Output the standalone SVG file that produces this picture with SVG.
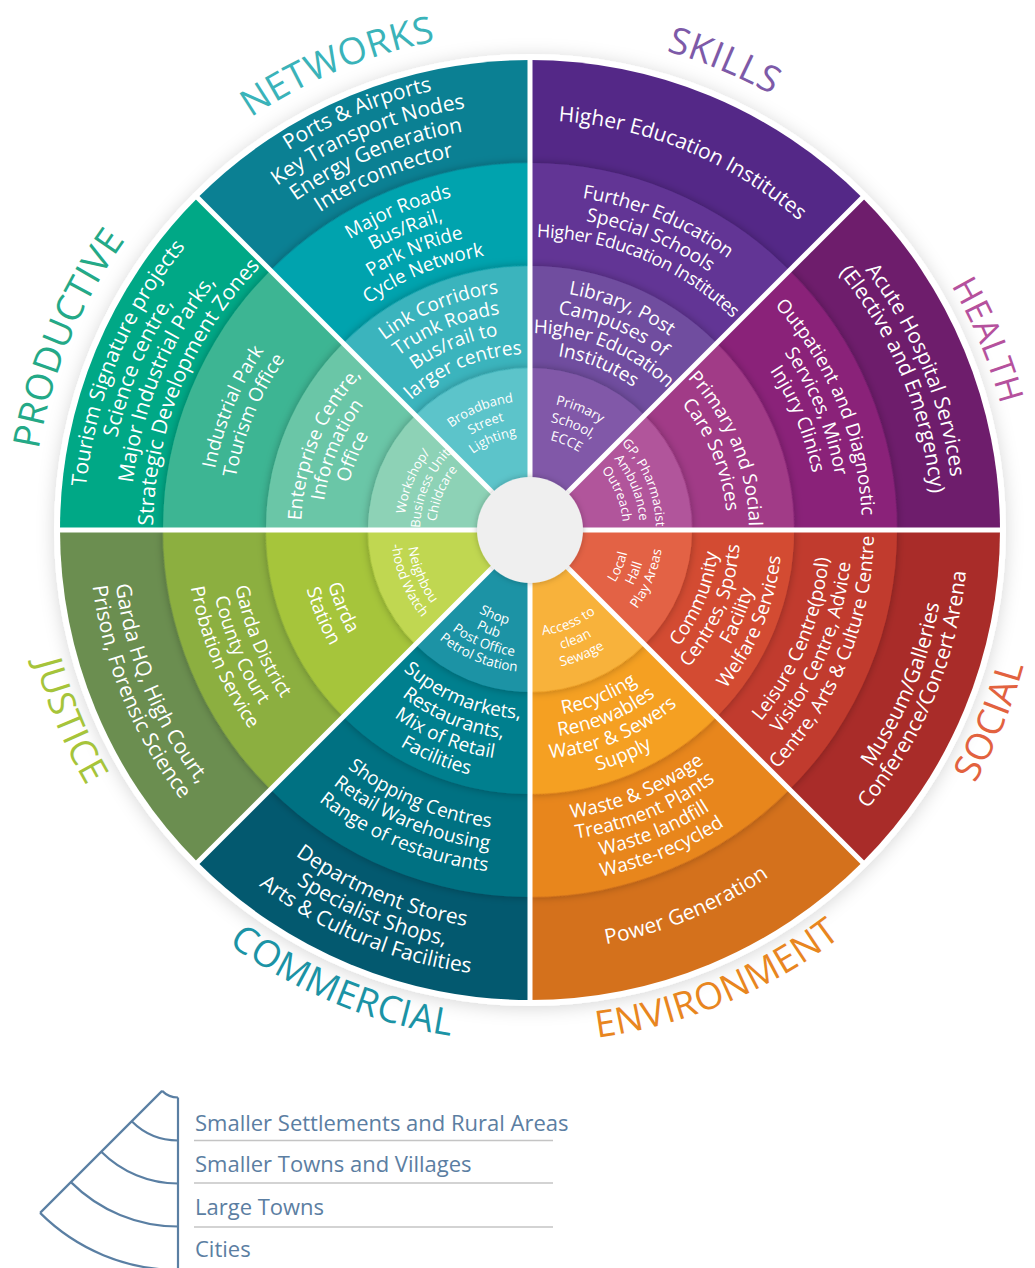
<svg xmlns="http://www.w3.org/2000/svg" width="1035" height="1268" viewBox="0 0 1035 1268">
<style>
.t{font-family:"Open Sans","Liberation Sans",sans-serif;fill:#fff;text-anchor:middle}
.f1{font-size:21px}.f2{font-size:19px}.f4{font-size:13.5px}
.cat{font-family:"Open Sans","Liberation Sans",sans-serif;font-size:37px;letter-spacing:0.5px;text-anchor:middle}
.leg{font-family:"Open Sans","Liberation Sans",sans-serif;font-size:22px;fill:#5b7ea2}
.fan{fill:none;stroke:#5a7fa3;stroke-width:2.2}
.rule{stroke:#c4c4c4;stroke-width:1.6}
</style>
<defs>
<filter id="plate" x="-10%" y="-10%" width="120%" height="120%"><feDropShadow dx="0" dy="2" stdDeviation="9" flood-color="#000" flood-opacity="0.16"/></filter>
<filter id="sh" x="-20%" y="-20%" width="140%" height="140%"><feDropShadow dx="0" dy="0" stdDeviation="4" flood-color="#000" flood-opacity="0.3"/></filter>
<filter id="csh" x="-30%" y="-30%" width="160%" height="160%"><feDropShadow dx="0" dy="0" stdDeviation="3" flood-color="#000" flood-opacity="0.25"/></filter>
<clipPath id="cw"><path d="M530 530L530 58A472 472 0 0 1 863.76 196.24Z"/></clipPath>
<path id="w1" d="M530 530L530 60A470 470 0 0 1 862.34 197.66Z"/>
<path id="w2" d="M530 530L530 163A367 367 0 0 1 789.51 270.49Z"/>
<path id="w3" d="M530 530L530 266A264 264 0 0 1 716.68 343.32Z"/>
<path id="w4" d="M530 530L530 368A162 162 0 0 1 644.55 415.45Z"/>
<path id="t450" d="M80 530A450 450 0 0 1 980 530"/>
<path id="t427" d="M103 530A427 427 0 0 1 957 530"/>
<path id="t404" d="M126 530A404 404 0 0 1 934 530"/>
<path id="t381" d="M149 530A381 381 0 0 1 911 530"/>
<path id="t342" d="M188 530A342 342 0 0 1 872 530"/>
<path id="t321" d="M209 530A321 321 0 0 1 851 530"/>
<path id="t299" d="M231 530A299 299 0 0 1 829 530"/>
<path id="t278" d="M252 530A278 278 0 0 1 808 530"/>
<path id="t239" d="M291 530A239 239 0 0 1 769 530"/>
<path id="t218" d="M312 530A218 218 0 0 1 748 530"/>
<path id="t197" d="M333 530A197 197 0 0 1 727 530"/>
<path id="t176" d="M354 530A176 176 0 0 1 706 530"/>
<path id="t129" d="M401 530A129 129 0 0 1 659 530"/>
<path id="t112" d="M418 530A112 112 0 0 1 642 530"/>
<path id="t95" d="M435 530A95 95 0 0 1 625 530"/>
<path id="t410" d="M120 530A410 410 0 0 1 940 530"/>
<path id="t336" d="M194 530A336 336 0 0 1 866 530"/>
<path id="t314" d="M216 530A314 314 0 0 1 844 530"/>
<path id="t293" d="M237 530A293 293 0 0 1 823 530"/>
<path id="t128" d="M402 530A128 128 0 0 1 658 530"/>
<path id="t110" d="M420 530A110 110 0 0 1 640 530"/>
<path id="t92" d="M438 530A92 92 0 0 1 622 530"/>
<path id="t424" d="M106 530A424 424 0 0 1 954 530"/>
<path id="t402" d="M128 530A402 402 0 0 1 932 530"/>
<path id="t332" d="M198 530A332 332 0 0 1 862 530"/>
<path id="t310" d="M220 530A310 310 0 0 1 840 530"/>
<path id="t288" d="M242 530A288 288 0 0 1 818 530"/>
<path id="t219" d="M311 530A219 219 0 0 1 749 530"/>
<path id="t126" d="M404 530A126 126 0 0 1 656 530"/>
<path id="t93" d="M437 530A93 93 0 0 1 623 530"/>
<path id="t446" d="M84 530A446 446 0 0 1 976 530"/>
<path id="t423" d="M107 530A423 423 0 0 1 953 530"/>
<path id="t400" d="M130 530A400 400 0 0 1 930 530"/>
<path id="t377" d="M153 530A377 377 0 0 1 907 530"/>
<path id="t229" d="M301 530A229 229 0 0 1 759 530"/>
<path id="t208" d="M322 530A208 208 0 0 1 738 530"/>
<path id="t187" d="M343 530A187 187 0 0 1 717 530"/>
<path id="t94" d="M436 530A94 94 0 0 1 624 530"/>
<path id="t498" d="M32 530A498 498 0 0 1 1028 530"/>
<path id="t487" d="M43 530A487 487 0 0 1 1017 530"/>
<path id="b416" d="M114 530A416 416 0 0 0 946 530"/>
<path id="b438" d="M92 530A438 438 0 0 0 968 530"/>
<path id="b300" d="M230 530A300 300 0 0 0 830 530"/>
<path id="b322" d="M208 530A322 322 0 0 0 852 530"/>
<path id="b344" d="M186 530A344 344 0 0 0 874 530"/>
<path id="b189" d="M341 530A189 189 0 0 0 719 530"/>
<path id="b210" d="M320 530A210 210 0 0 0 740 530"/>
<path id="b231" d="M299 530A231 231 0 0 0 761 530"/>
<path id="b252" d="M278 530A252 252 0 0 0 782 530"/>
<path id="b100" d="M430 530A100 100 0 0 0 630 530"/>
<path id="b117" d="M413 530A117 117 0 0 0 647 530"/>
<path id="b133" d="M397 530A133 133 0 0 0 663 530"/>
<path id="b421" d="M109 530A421 421 0 0 0 951 530"/>
<path id="b291" d="M239 530A291 291 0 0 0 821 530"/>
<path id="b312" d="M218 530A312 312 0 0 0 842 530"/>
<path id="b333" d="M197 530A333 333 0 0 0 863 530"/>
<path id="b354" d="M176 530A354 354 0 0 0 884 530"/>
<path id="b187" d="M343 530A187 187 0 0 0 717 530"/>
<path id="b208" d="M322 530A208 208 0 0 0 738 530"/>
<path id="b229" d="M301 530A229 229 0 0 0 759 530"/>
<path id="b250" d="M280 530A250 250 0 0 0 780 530"/>
<path id="b106" d="M424 530A106 106 0 0 0 636 530"/>
<path id="b123" d="M407 530A123 123 0 0 0 653 530"/>
<path id="b140" d="M390 530A140 140 0 0 0 670 530"/>
<path id="b401" d="M129 530A401 401 0 0 0 931 530"/>
<path id="b424" d="M106 530A424 424 0 0 0 954 530"/>
<path id="b447" d="M83 530A447 447 0 0 0 977 530"/>
<path id="b97" d="M433 530A97 97 0 0 0 627 530"/>
<path id="b112" d="M418 530A112 112 0 0 0 642 530"/>
<path id="b127" d="M403 530A127 127 0 0 0 657 530"/>
<path id="b142" d="M388 530A142 142 0 0 0 672 530"/>
<path id="b418" d="M112 530A418 418 0 0 0 948 530"/>
<path id="b441" d="M89 530A441 441 0 0 0 971 530"/>
<path id="b209" d="M321 530A209 209 0 0 0 739 530"/>
<path id="b139" d="M391 530A139 139 0 0 0 669 530"/>
<path id="b512" d="M18 530A512 512 0 0 0 1042 530"/>
</defs>

<circle cx="530" cy="530" r="476" fill="#fff" filter="url(#plate)"/>

<g id="skills">
 <g clip-path="url(#cw)">
  <use href="#w1" fill="#542887"/>
  <use href="#w2" fill="#623695" filter="url(#sh)"/>
  <use href="#w3" fill="#704e9f" filter="url(#sh)"/>
  <use href="#w4" fill="#8159a8" filter="url(#sh)"/>
 </g>
 <g class="t" transform="rotate(22.5 530 530)">
  <text class="f1"><textPath href="#t410" startOffset="50%">Higher Education Institutes</textPath></text>
  <text class="f2"><textPath href="#t336" startOffset="50%">Further Education</textPath></text>
  <text class="f2"><textPath href="#t314" startOffset="50%">Special Schools</textPath></text>
  <text class="f2" style="font-size:18px;letter-spacing:-0.4px"><textPath href="#t293" startOffset="50%">Higher Education Institutes</textPath></text>
  <text class="f2"><textPath href="#t239" startOffset="50%">Library, Post</textPath></text>
  <text class="f2"><textPath href="#t218" startOffset="50%">Campuses of</textPath></text>
  <text class="f2" style="letter-spacing:-0.3px"><textPath href="#t197" startOffset="50%">Higher Education</textPath></text>
  <text class="f2"><textPath href="#t176" startOffset="50%">Institutes</textPath></text>
  <text class="f4"><textPath href="#t128" startOffset="50%">Primary</textPath></text>
  <text class="f4"><textPath href="#t110" startOffset="50%">School,</textPath></text>
  <text class="f4"><textPath href="#t92" startOffset="50%">ECCE</textPath></text>
 </g>
 <text class="cat" fill="#7d5aa8" transform="rotate(22.5 530 530)"><textPath href="#t498" startOffset="50%">SKILLS</textPath></text>
</g>

<g id="health">
 <g transform="rotate(45 530 530)" clip-path="url(#cw)">
  <use href="#w1" fill="#6e1d6c"/>
  <use href="#w2" fill="#8a2279" filter="url(#sh)"/>
  <use href="#w3" fill="#a13a87" filter="url(#sh)"/>
  <use href="#w4" fill="#b1559b" filter="url(#sh)"/>
 </g>
 <g class="t" transform="rotate(67.5 530 530)">
  <text class="f1"><textPath href="#t424" startOffset="50%">Acute Hospital Services</textPath></text>
  <text class="f1"><textPath href="#t402" startOffset="50%">(Elective and Emergency)</textPath></text>
  <text class="f2"><textPath href="#t332" startOffset="50%">Outpatient and Diagnostic</textPath></text>
  <text class="f2"><textPath href="#t310" startOffset="50%">Services, Minor</textPath></text>
  <text class="f2"><textPath href="#t288" startOffset="50%">Injury Clinics</textPath></text>
  <text class="f2"><textPath href="#t219" startOffset="50%">Primary and Social</textPath></text>
  <text class="f2"><textPath href="#t197" startOffset="50%">Care Services</textPath></text>
  <text class="f4" style="font-size:13px"><textPath href="#t126" startOffset="50%">GP, Pharmacist</textPath></text>
  <text class="f4" style="font-size:13px"><textPath href="#t110" startOffset="50%">Ambulance</textPath></text>
  <text class="f4" style="font-size:13px"><textPath href="#t93" startOffset="50%">Outreach</textPath></text>
 </g>
 <text class="cat" fill="#b5519d" style="font-size:34px" transform="rotate(67.5 530 530)"><textPath href="#t487" startOffset="50%">HEALTH</textPath></text>
</g>

<g id="social">
 <g transform="rotate(90 530 530)" clip-path="url(#cw)">
  <use href="#w1" fill="#a92c29"/>
  <use href="#w2" fill="#c13b2d" filter="url(#sh)"/>
  <use href="#w3" fill="#d34c33" filter="url(#sh)"/>
  <use href="#w4" fill="#e36244" filter="url(#sh)"/>
 </g>
 <g class="t" transform="rotate(-67.5 530 530)">
  <text class="f1"><textPath href="#b416" startOffset="50%">Museum/Galleries</textPath></text>
  <text class="f1"><textPath href="#b438" startOffset="50%">Conference/Concert Arena</textPath></text>
  <text class="f2"><textPath href="#b300" startOffset="50%">Leisure Centre(pool)</textPath></text>
  <text class="f2"><textPath href="#b322" startOffset="50%">Visitor Centre, Advice</textPath></text>
  <text class="f2"><textPath href="#b344" startOffset="50%">Centre, Arts &amp; Culture Centre</textPath></text>
  <text class="f2"><textPath href="#b189" startOffset="50%">Community</textPath></text>
  <text class="f2"><textPath href="#b210" startOffset="50%">Centres, Sports</textPath></text>
  <text class="f2"><textPath href="#b231" startOffset="50%">Facility</textPath></text>
  <text class="f2"><textPath href="#b252" startOffset="50%">Welfare Services</textPath></text>
  <text class="f4"><textPath href="#b100" startOffset="50%">Local</textPath></text>
  <text class="f4"><textPath href="#b117" startOffset="50%">Hall</textPath></text>
  <text class="f4"><textPath href="#b133" startOffset="50%">Play Areas</textPath></text>
 </g>
 <text class="cat" fill="#e2623f" transform="rotate(-67.5 530 530)"><textPath href="#b512" startOffset="50%">SOCIAL</textPath></text>
</g>

<g id="environment">
 <g transform="rotate(135 530 530)" clip-path="url(#cw)">
  <use href="#w1" fill="#d4711c"/>
  <use href="#w2" fill="#e8861f" filter="url(#sh)"/>
  <use href="#w3" fill="#f5a023" filter="url(#sh)"/>
  <use href="#w4" fill="#f8b23b" filter="url(#sh)"/>
 </g>
 <g class="t" transform="rotate(-22.5 530 530)">
  <text class="f1"><textPath href="#b421" startOffset="50%">Power Generation</textPath></text>
  <text class="f2"><textPath href="#b291" startOffset="50%">Waste &amp; Sewage</textPath></text>
  <text class="f2"><textPath href="#b312" startOffset="50%">Treatment Plants</textPath></text>
  <text class="f2"><textPath href="#b333" startOffset="50%">Waste landfill</textPath></text>
  <text class="f2"><textPath href="#b354" startOffset="50%">Waste-recycled</textPath></text>
  <text class="f2"><textPath href="#b187" startOffset="50%">Recycling</textPath></text>
  <text class="f2"><textPath href="#b208" startOffset="50%">Renewables</textPath></text>
  <text class="f2"><textPath href="#b229" startOffset="50%">Water &amp; Sewers</textPath></text>
  <text class="f2"><textPath href="#b250" startOffset="50%">Supply</textPath></text>
  <text class="f4"><textPath href="#b106" startOffset="50%">Access to</textPath></text>
  <text class="f4"><textPath href="#b123" startOffset="50%">clean</textPath></text>
  <text class="f4"><textPath href="#b140" startOffset="50%">Sewage</textPath></text>
 </g>
 <text class="cat" fill="#e8861f" transform="rotate(-22.5 530 530)"><textPath href="#b512" startOffset="50%">ENVIRONMENT</textPath></text>
</g>

<g id="commercial">
 <g transform="rotate(180 530 530)" clip-path="url(#cw)">
  <use href="#w1" fill="#03596f"/>
  <use href="#w2" fill="#037182" filter="url(#sh)"/>
  <use href="#w3" fill="#047f8e" filter="url(#sh)"/>
  <use href="#w4" fill="#1b93a5" filter="url(#sh)"/>
 </g>
 <g class="t" transform="rotate(22.5 530 530)">
  <text class="f1"><textPath href="#b401" startOffset="50%">Department Stores</textPath></text>
  <text class="f1"><textPath href="#b424" startOffset="50%">Specialist Shops,</textPath></text>
  <text class="f1"><textPath href="#b447" startOffset="50%">Arts &amp; Cultural Facilities</textPath></text>
  <text class="f2"><textPath href="#b300" startOffset="50%">Shopping Centres</textPath></text>
  <text class="f2"><textPath href="#b322" startOffset="50%">Retail Warehousing</textPath></text>
  <text class="f2"><textPath href="#b344" startOffset="50%">Range of restaurants</textPath></text>
  <text class="f2"><textPath href="#b189" startOffset="50%">Supermarkets,</textPath></text>
  <text class="f2"><textPath href="#b210" startOffset="50%">Restaurants,</textPath></text>
  <text class="f2"><textPath href="#b231" startOffset="50%">Mix of Retail</textPath></text>
  <text class="f2"><textPath href="#b252" startOffset="50%">Facilities</textPath></text>
  <text class="f4"><textPath href="#b97" startOffset="50%">Shop</textPath></text>
  <text class="f4"><textPath href="#b112" startOffset="50%">Pub</textPath></text>
  <text class="f4"><textPath href="#b127" startOffset="50%">Post Office</textPath></text>
  <text class="f4"><textPath href="#b142" startOffset="50%">Petrol Station</textPath></text>
 </g>
 <text class="cat" fill="#1b93a5" transform="rotate(22.5 530 530)"><textPath href="#b512" startOffset="50%">COMMERCIAL</textPath></text>
</g>

<g id="justice">
 <g transform="rotate(225 530 530)" clip-path="url(#cw)">
  <use href="#w1" fill="#6b8e50"/>
  <use href="#w2" fill="#8caf3f" filter="url(#sh)"/>
  <use href="#w3" fill="#a6c53b" filter="url(#sh)"/>
  <use href="#w4" fill="#c0d751" filter="url(#sh)"/>
 </g>
 <g class="t" transform="rotate(67.5 530 530)">
  <text class="f1"><textPath href="#b418" startOffset="50%">Garda HQ, High Court,</textPath></text>
  <text class="f1"><textPath href="#b441" startOffset="50%">Prison, Forensic Science</textPath></text>
  <text class="f2"><textPath href="#b300" startOffset="50%">Garda District</textPath></text>
  <text class="f2"><textPath href="#b322" startOffset="50%">County Court</textPath></text>
  <text class="f2"><textPath href="#b344" startOffset="50%">Probation Service</textPath></text>
  <text class="f2"><textPath href="#b209" startOffset="50%">Garda</textPath></text>
  <text class="f2"><textPath href="#b231" startOffset="50%">Station</textPath></text>
  <text class="f4"><textPath href="#b123" startOffset="50%">Neighbou</textPath></text>
  <text class="f4"><textPath href="#b139" startOffset="50%">-hood Watch</textPath></text>
 </g>
 <text class="cat" fill="#a6c43a" transform="rotate(67.5 530 530)"><textPath href="#b512" startOffset="50%">JUSTICE</textPath></text>
</g>

<g id="productive">
 <g transform="rotate(270 530 530)" clip-path="url(#cw)">
  <use href="#w1" fill="#00a886"/>
  <use href="#w2" fill="#3db593" filter="url(#sh)"/>
  <use href="#w3" fill="#6bc6a7" filter="url(#sh)"/>
  <use href="#w4" fill="#8dd2b6" filter="url(#sh)"/>
 </g>
 <g class="t" transform="rotate(-67.5 530 530)">
  <text class="f1"><textPath href="#t446" startOffset="50%">Tourism Signature projects</textPath></text>
  <text class="f1"><textPath href="#t423" startOffset="50%">Science centre,</textPath></text>
  <text class="f1"><textPath href="#t400" startOffset="50%">Major Industrial Parks,</textPath></text>
  <text class="f1"><textPath href="#t377" startOffset="50%">Strategic Development Zones</textPath></text>
  <text class="f2"><textPath href="#t321" startOffset="50%">Industrial Park</textPath></text>
  <text class="f2"><textPath href="#t299" startOffset="50%">Tourism Office</textPath></text>
  <text class="f2"><textPath href="#t229" startOffset="50%">Enterprise Centre,</textPath></text>
  <text class="f2"><textPath href="#t208" startOffset="50%">Information</textPath></text>
  <text class="f2"><textPath href="#t187" startOffset="50%">Office</textPath></text>
  <text class="f4" style="font-size:13px"><textPath href="#t126" startOffset="50%">Workshop/</textPath></text>
  <text class="f4" style="font-size:13px"><textPath href="#t110" startOffset="50%">Business Unit</textPath></text>
  <text class="f4" style="font-size:13px"><textPath href="#t94" startOffset="50%">Childcare</textPath></text>
 </g>
 <text class="cat" fill="#24a987" transform="rotate(-67.5 530 530)"><textPath href="#t498" startOffset="50%">PRODUCTIVE</textPath></text>
</g>

<g id="networks">
 <g transform="rotate(315 530 530)" clip-path="url(#cw)">
  <use href="#w1" fill="#0b8093"/>
  <use href="#w2" fill="#00a3ae" filter="url(#sh)"/>
  <use href="#w3" fill="#3ab4bd" filter="url(#sh)"/>
  <use href="#w4" fill="#5bc4ca" filter="url(#sh)"/>
 </g>
 <g class="t" transform="rotate(-22.5 530 530)">
  <text class="f1"><textPath href="#t450" startOffset="50%">Ports &amp; Airports</textPath></text>
  <text class="f1"><textPath href="#t427" startOffset="50%">Key Transport Nodes</textPath></text>
  <text class="f1"><textPath href="#t404" startOffset="50%">Energy Generation</textPath></text>
  <text class="f1"><textPath href="#t381" startOffset="50%">Interconnector</textPath></text>
  <text class="f2"><textPath href="#t342" startOffset="50%">Major Roads</textPath></text>
  <text class="f2"><textPath href="#t321" startOffset="50%">Bus/Rail,</textPath></text>
  <text class="f2"><textPath href="#t299" startOffset="50%">Park N’Ride</textPath></text>
  <text class="f2"><textPath href="#t278" startOffset="50%">Cycle Network</textPath></text>
  <text class="f2"><textPath href="#t239" startOffset="50%">Link Corridors</textPath></text>
  <text class="f2"><textPath href="#t218" startOffset="50%">Trunk Roads</textPath></text>
  <text class="f2"><textPath href="#t197" startOffset="50%">Bus/rail to</textPath></text>
  <text class="f2"><textPath href="#t176" startOffset="50%">larger centres</textPath></text>
  <text class="f4" style="font-size:13px"><textPath href="#t129" startOffset="50%">Broadband</textPath></text>
  <text class="f4" style="font-size:13px"><textPath href="#t112" startOffset="50%">Street</textPath></text>
  <text class="f4" style="font-size:13px"><textPath href="#t95" startOffset="50%">Lighting</textPath></text>
 </g>
 <text class="cat" fill="#3ab3b9" transform="rotate(-22.5 530 530)"><textPath href="#t498" startOffset="50%">NETWORKS</textPath></text>
</g>

<g id="dividers" stroke="#fff" stroke-width="5">
 <line x1="59" y1="530" x2="1001" y2="530"/>
 <line x1="530" y1="59" x2="530" y2="1001"/>
 <line x1="196.9" y1="196.9" x2="863.1" y2="863.1"/>
 <line x1="863.1" y1="196.9" x2="196.9" y2="863.1"/>
</g>

<g id="hub"><circle cx="530" cy="530" r="53" fill="#efefef" filter="url(#csh)"/></g>

<g id="legend">
 <path class="fan" d="M178 1097.5V1270M162.1 1090.9L40.1 1212.9M162.1 1090.9A22.5 22.5 0 0 0 178 1097.5M131.7 1121.3A65.5 65.5 0 0 0 178 1140.5M101.3 1151.7A108.5 108.5 0 0 0 178 1183.5M70.9 1182.1A151.5 151.5 0 0 0 178 1226.5M40.1 1212.9A195 195 0 0 0 178 1270"/>
 <line class="rule" x1="194" y1="1140.5" x2="553" y2="1140.5"/>
 <line class="rule" x1="194" y1="1183" x2="553" y2="1183"/>
 <line class="rule" x1="194" y1="1227" x2="553" y2="1227"/>
 <text class="leg" x="195" y="1131">Smaller Settlements and Rural Areas</text>
 <text class="leg" x="195" y="1172">Smaller Towns and Villages</text>
 <text class="leg" x="195" y="1215">Large Towns</text>
 <text class="leg" x="195" y="1257">Cities</text>
</g>
</svg>
